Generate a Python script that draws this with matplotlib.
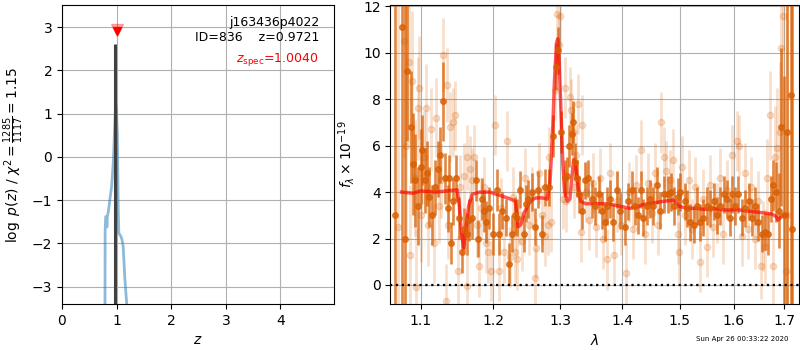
import numpy as np
import matplotlib
matplotlib.use("Agg")
import matplotlib.pyplot as plt
from matplotlib.ticker import FixedLocator, NullLocator, FixedFormatter

# 레드시프트 적합 결과
obj_name = "j163436p4022"
obj_id = 836
z_fit = 0.9721
z_spec = 1.0040
chi2_num, chi2_den = 1285, 1117
zfit_logp = 2.6
timestamp = "Sun Apr 26 00:33:22 2020"

# log p(z) 곡선
pz_z = [0.787, 0.790, 0.800, 0.815, 0.822, 0.830, 0.850, 0.880, 0.910, 0.940, 0.965, 0.983,
        0.995, 1.013, 1.030, 1.040, 1.060, 1.080, 1.100, 1.120, 1.150, 1.185]
pz_logp = [-3.4, -1.70, -1.38, -1.38, -1.62, -1.38, -1.25, -0.95, -0.67, -0.10, 0.70, 1.24,
           1.10, 0.55, -1.20, -1.76, -1.80, -1.84, -1.92, -2.07, -2.80, -3.4]

# 진한 스펙트럼 (파장 um, 플럭스, 오차)
dark_wave = [1.067, 1.076, 1.079, 1.082, 1.087, 1.090, 1.093, 1.097, 1.100, 1.102, 1.105, 1.108,
             1.111, 1.115, 1.119, 1.123, 1.126, 1.130, 1.133, 1.136, 1.138, 1.140, 1.144, 1.148,
             1.152, 1.156, 1.159, 1.162, 1.166, 1.170, 1.175, 1.178, 1.184, 1.187, 1.190, 1.194,
             1.199, 1.205, 1.208, 1.213, 1.218, 1.2225, 1.2275, 1.231, 1.234, 1.239, 1.244, 1.247,
             1.250, 1.256, 1.261, 1.266, 1.272, 1.277, 1.282, 1.289, 1.293, 1.296, 1.301, 1.3075,
             1.310, 1.314, 1.318, 1.320, 1.323, 1.327, 1.330, 1.334, 1.339, 1.3445, 1.350, 1.355,
             1.361, 1.366, 1.372, 1.3755, 1.380, 1.385, 1.392, 1.3965, 1.404, 1.4105, 1.416, 1.422,
             1.427, 1.432, 1.436, 1.442, 1.448, 1.453, 1.460, 1.465, 1.471, 1.478, 1.484, 1.490,
             1.496, 1.5006, 1.5096, 1.5127, 1.519, 1.525, 1.531, 1.537, 1.543, 1.549, 1.5555, 1.562,
             1.568, 1.574, 1.5805, 1.587, 1.593, 1.596, 1.603, 1.609, 1.616, 1.622, 1.629, 1.635,
             1.642, 1.648, 1.654, 1.660, 1.667, 1.672, 1.676, 1.683, 1.688, 1.694, 1.699, 1.706,
             1.714, 1.716]
dark_flux = [3.0, 11.1, 2.0, 9.2, 6.8, 5.2, 4.5, 3.4, 5.1, 5.8, 4.5, 4.8,
             3.8, 3.0, 4.2, 5.0, 5.6, 7.9, 4.6, 3.3, 4.6, 1.8, 3.6, 4.6,
             2.9, 1.4, 2.4, 2.2, 2.8, 2.9, 4.5, 2.0, 3.7, 3.2, 2.7, 3.3,
             2.2, 4.1, 2.2, 3.2, 2.9, 0.9, 2.2, 3.0, 2.9, 4.1, 2.2, 3.5,
             3.7, 4.0, 2.5, 4.1, 2.2, 4.2, 4.2, 6.4, 9.4, 10.1, 6.6, 4.6,
             4.7, 6.0, 6.5, 7.0, 5.3, 4.6, 3.9, 3.2, 4.5, 4.6, 3.7, 3.4,
             3.9, 3.2, 2.7, 3.4, 3.7, 2.7, 4.1, 3.2, 2.5, 3.6, 4.1, 3.4,
             3.0, 4.1, 2.9, 3.4, 3.7, 3.4, 4.3, 3.2, 3.9, 3.9, 4.0, 3.4,
             3.8, 4.0, 3.6, 3.3, 2.7, 2.6, 3.4, 2.7, 2.9, 3.4, 3.3, 3.6,
             3.0, 3.4, 3.9, 3.7, 2.9, 3.9, 3.4, 3.9, 2.9, 3.3, 3.6, 2.9,
             3.4, 2.7, 2.2, 2.3, 2.2, 3.7, 4.3, 4.0, 3.2, 6.8, 3.0, 6.6,
             8.2, 2.4]
dark_err = [30, 14, 12, 3.0, 2.4, 2.2, 2.0, 1.7, 1.6, 1.5, 1.4, 1.4,
            1.3, 1.3, 1.2, 1.2, 1.2, 1.7, 1.1, 1.0, 1.0, 0.9, 1.0, 1.0,
            0.9, 0.9, 0.9, 0.9, 0.9, 0.9, 0.9, 0.8, 0.9, 0.9, 0.9, 0.9,
            0.9, 0.9, 0.9, 0.8, 0.8, 0.9, 0.8, 0.8, 0.8, 0.8, 0.8, 0.8,
            0.8, 0.8, 0.8, 0.8, 0.8, 0.8, 0.8, 0.9, 1.0, 1.0, 0.9, 0.8,
            0.8, 0.9, 0.9, 0.9, 0.8, 0.8, 0.8, 0.8, 0.8, 0.8, 0.8, 0.8,
            0.8, 0.8, 0.8, 0.8, 0.8, 0.8, 0.8, 0.8, 0.8, 0.8, 0.8, 0.8,
            0.8, 0.8, 0.8, 0.8, 0.8, 0.8, 0.8, 0.8, 0.8, 0.8, 0.8, 0.8,
            0.8, 0.8, 0.8, 0.8, 0.8, 0.8, 0.8, 0.8, 0.8, 0.8, 0.8, 0.8,
            0.8, 0.8, 0.8, 0.8, 0.8, 0.8, 0.8, 0.8, 0.8, 0.8, 0.8, 0.8,
            0.8, 0.8, 0.8, 0.8, 0.9, 1.0, 1.1, 1.3, 1.6, 3.4, 6.0, 14,
            20, 25]

# 연한 스펙트럼 (두 번째 빔)
light_wave = [1.070, 1.078, 1.081, 1.085, 1.086, 1.089, 1.092, 1.094, 1.097, 1.098, 1.101, 1.104,
              1.107, 1.110, 1.113, 1.117, 1.120, 1.124, 1.127, 1.130, 1.1335, 1.135, 1.137, 1.139,
              1.143, 1.146, 1.150, 1.153, 1.158, 1.162, 1.163, 1.167, 1.170, 1.1725, 1.176, 1.1795,
              1.183, 1.186, 1.1897, 1.1925, 1.1968, 1.2024, 1.2076, 1.211, 1.215, 1.2197, 1.2242, 1.228,
              1.2307, 1.2345, 1.238, 1.2419, 1.246, 1.252, 1.257, 1.2607, 1.2625, 1.267, 1.2725, 1.276,
              1.281, 1.283, 1.2855, 1.2925, 1.2956, 1.2985, 1.3003, 1.3045, 1.3075, 1.3085, 1.3145, 1.317,
              1.320, 1.322, 1.325, 1.328, 1.333, 1.335, 1.341, 1.346, 1.352, 1.357, 1.363, 1.369,
              1.3744, 1.379, 1.3865, 1.391, 1.398, 1.4067, 1.412, 1.418, 1.424, 1.4325, 1.438, 1.444,
              1.450, 1.456, 1.462, 1.466, 1.471, 1.476, 1.4825, 1.488, 1.4965, 1.4985, 1.504, 1.510,
              1.516, 1.522, 1.528, 1.537, 1.543, 1.549, 1.555, 1.561, 1.568, 1.574, 1.580, 1.587,
              1.5963, 1.6055, 1.610, 1.6155, 1.6215, 1.628, 1.634, 1.641, 1.647, 1.6525, 1.656, 1.660,
              1.664, 1.6715, 1.6775, 1.6805, 1.684, 1.6905, 1.6935, 1.698, 1.7025, 1.706]
light_flux = [2.5, 10.5, 6.0, 9.6, 1.3, 8.8, 4.6, -0.1, 7.6, 8.5, 3.0, 5.5,
              7.6, 2.6, 6.7, 1.8, 7.2, 3.4, 4.5, 9.9, -0.7, 8.6, 2.6, 6.8,
              7.0, 7.3, 0.6, 4.2, 4.7, -0.05, 5.5, 5.0, 4.5, 5.5, 2.6, 0.8,
              3.3, 4.2, 1.8, 1.4, 0.6, 6.9, 0.6, 3.3, 1.4, 6.2, 1.2, 3.8,
              1.4, 1.1, 3.0, 1.9, 4.6, 2.6, 3.8, 0.3, 1.6, 4.8, 3.0, 2.1,
              2.6, 5.5, 2.7, 8.4, 11.65, 10.35, 11.6, 3.7, 8.5, 3.6, 8.1, 7.55,
              6.6, 4.2, 5.6, 7.8, 2.3, 6.9, 4.0, 2.8, 4.4, 2.5, 4.6, 2.0,
              1.1, 4.8, 1.3, 3.6, 2.6, 0.5, 4.0, 2.4, 4.3, 5.8, 2.2, 4.4,
              3.1, 4.8, 2.6, 7.0, 5.5, 4.9, 4.5, 5.4, 2.2, 1.4, 5.1, 3.0,
              4.5, 2.4, 4.2, 1.0, 3.7, 1.65, 4.3, 2.5, 3.1, 4.6, 2.2, 4.1,
              5.6, 6.2, 6.0, 2.1, 4.8, 2.4, 4.2, 2.0, 3.6, 0.8, 2.1, 1.65,
              4.6, 7.3, 0.8, 5.5, 5.9, 6.6, 10.2, 11.6, 0.6, 3.0]
light_err = [25, 5.0, 4.0, 3.5, 3.0, 3.0, 2.5, 2.5, 2.2, 2.2, 2.0, 2.0,
             1.9, 1.8, 1.8, 1.7, 1.7, 1.6, 1.6, 1.6, 1.6, 1.6, 1.5, 1.5,
             1.5, 1.5, 1.5, 1.4, 1.4, 1.4, 1.4, 1.4, 1.4, 1.4, 1.4, 1.3,
             1.3, 1.3, 1.3, 1.3, 1.3, 1.3, 1.3, 1.3, 1.3, 1.3, 1.3, 1.3,
             1.3, 1.3, 1.3, 1.3, 1.3, 1.3, 1.3, 1.3, 1.3, 1.3, 1.3, 1.3,
             1.3, 1.3, 1.3, 1.3, 1.3, 1.3, 1.3, 1.3, 1.3, 1.3, 1.3, 1.3,
             1.3, 1.3, 1.3, 1.3, 1.3, 1.3, 1.3, 1.3, 1.3, 1.3, 1.3, 1.3,
             1.3, 1.3, 1.3, 1.3, 1.3, 1.3, 1.3, 1.3, 1.3, 1.3, 1.3, 1.3,
             1.3, 1.3, 1.3, 1.3, 1.3, 1.3, 1.3, 1.3, 1.3, 1.3, 1.3, 1.3,
             1.3, 1.3, 1.3, 1.3, 1.3, 1.3, 1.3, 1.3, 1.3, 1.3, 1.3, 1.3,
             1.3, 1.3, 1.3, 1.3, 1.3, 1.3, 1.3, 1.3, 1.3, 1.4, 1.5, 1.6,
             1.7, 1.9, 2.0, 2.2, 2.6, 3.0, 3.5, 5.0, 6.0, 20]

# 최적 모델
model_wave = [1.075, 1.090, 1.100, 1.120, 1.135, 1.149, 1.152, 1.155, 1.158, 1.161, 1.165, 1.170,
              1.180, 1.195, 1.205, 1.215, 1.225, 1.232, 1.236, 1.240, 1.245, 1.252, 1.258, 1.264,
              1.272, 1.280, 1.284, 1.288, 1.291, 1.294, 1.296, 1.298, 1.301, 1.304, 1.307, 1.311,
              1.315, 1.318, 1.321, 1.324, 1.328, 1.332, 1.340, 1.350, 1.370, 1.385, 1.398, 1.413,
              1.425, 1.434, 1.445, 1.458, 1.470, 1.478, 1.488, 1.492, 1.498, 1.512, 1.530, 1.545,
              1.560, 1.572, 1.590, 1.605, 1.620, 1.640, 1.660, 1.675, 1.683, 1.687, 1.692, 1.697,
              1.705]
model_flux = [4.0, 3.95, 4.05, 4.0, 4.05, 4.1, 3.4, 2.2, 1.6, 2.4, 3.4, 3.9,
              4.0, 4.0, 3.9, 3.8, 3.7, 3.6, 2.5, 2.6, 3.1, 3.5, 3.7, 3.75,
              3.75, 3.7, 4.4, 6.5, 8.8, 10.4, 10.6, 9.8, 7.5, 5.2, 4.0, 3.6,
              3.7, 4.6, 5.4, 5.2, 4.2, 3.6, 3.5, 3.5, 3.5, 3.45, 3.38, 3.3,
              3.35, 3.45, 3.5, 3.55, 3.6, 3.62, 3.65, 3.6, 3.4, 3.3, 3.3, 3.25,
              3.3, 3.25, 3.22, 3.25, 3.2, 3.15, 3.1, 3.05, 2.95, 2.8, 2.9, 3.0,
              3.0]

wave_ticks = [1.1, 1.2, 1.3, 1.4, 1.5, 1.6, 1.7]
spec_color = '#d95f02'


def plot_pz(ax):
    """p(z) 패널"""
    ax.plot(pz_z, pz_logp, color='#1f77b4', alpha=0.5, linewidth=2)
    ax.vlines(z_fit, -3.4, zfit_logp, color='0.25', linewidth=2.2)
    ax.plot(z_spec, 2.94, marker='v', color='r', markersize=8, alpha=0.3)
    ax.plot(z_spec, 2.91, marker='v', color='r', markersize=6)

    ax.text(0.945, 0.962, '{0}\nID={1:<5d}  z={2:.4f}'.format(obj_name, obj_id, z_fit),
            ha='right', va='top', transform=ax.transAxes, fontsize=9, linespacing=1.15)
    ax.text(0.945, 0.848, r'$z_\mathrm{spec}$' + '={0:.4f}'.format(z_spec),
            ha='right', va='top', transform=ax.transAxes, fontsize=9, color='r')

    ax.set_xlim(0, 4.98)
    ax.set_ylim(-3.4, 3.51)
    ax.set_xticks([0, 1, 2, 3, 4])
    ax.set_yticks([-3, -2, -1, 0, 1, 2, 3])
    ax.set_xlabel(r'$z$')
    ax.set_ylabel(r'$\log\ p(z)$' + ' / ' +
                  r'$\chi^2=\frac{%d}{%d}=%.2f$' % (chi2_num, chi2_den, chi2_num / chi2_den))
    ax.grid(True)


def plot_spectrum(ax):
    """1D 스펙트럼 패널"""
    ax.errorbar(light_wave, light_flux, yerr=light_err, color=spec_color, alpha=0.2,
                marker='o', markersize=4.5, linestyle='None', elinewidth=2.0)
    ax.errorbar(dark_wave, dark_flux, yerr=dark_err, color=spec_color, alpha=0.75,
                marker='o', markersize=4, linestyle='None', elinewidth=1.9)
    ax.plot(model_wave, model_flux, color='r', alpha=0.65, linewidth=2.5)
    ax.axhline(0, color='k', linestyle=':', linewidth=1.6)

    ax.set_xscale('log')
    ax.set_xlim(1.0607, 1.730)
    ax.set_ylim(-0.82, 12.05)
    ax.xaxis.set_major_locator(FixedLocator(wave_ticks))
    ax.xaxis.set_major_formatter(FixedFormatter(['{0:.1f}'.format(w) for w in wave_ticks]))
    ax.xaxis.set_minor_locator(NullLocator())
    ax.set_yticks([0, 2, 4, 6, 8, 10, 12])
    ax.set_xlabel(r'$\lambda$')
    ax.set_ylabel(r'$f_\lambda \times 10^{-19}$')
    ax.grid(True)


def main():
    fig = plt.figure(figsize=(8, 3.5), dpi=100)
    ax_pz = fig.add_axes([0.0775, 0.1314, 0.34, 0.854])
    ax_sp = fig.add_axes([0.4879, 0.1314, 0.5109, 0.854])

    plot_pz(ax_pz)
    plot_spectrum(ax_sp)

    fig.text(0.985, 0.031, timestamp, ha='right', va='center', fontsize=5)
    fig.savefig('out.png', dpi=100)


if __name__ == "__main__":
    main()
